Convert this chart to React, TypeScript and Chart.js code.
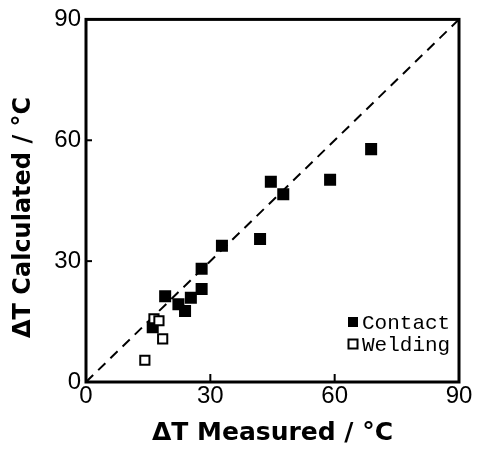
import React, { useEffect, useRef } from "react";
import { Chart, registerables } from "chart.js";
Chart.register(...registerables);

const contactX = [16.1, 19.1, 22.3, 23.9, 25.3, 27.9, 27.9, 32.8, 42.0, 44.6, 47.6, 58.9, 68.8];
const contactY = [13.6, 21.3, 19.3, 17.6, 20.9, 23.1, 28.1, 33.8, 35.5, 49.7, 46.6, 50.2, 57.8];
const weldingX = [16.4, 17.6, 18.5, 14.2];
const weldingY = [15.7, 15.2, 10.7, 5.4];
const tickValues = [0, 30, 60, 90];
const diagonal = [0, 90];
const xTitle = "ΔT Measured / °C";
const yTitle = "ΔT Calculated / °C    ";
const legendLabels = ["Contact", "Welding"];

const framePlugin = {
  id: "frame",
  afterDatasetsDraw(chart: any) {
    const { ctx, chartArea, scales } = chart;
    const { left, right, top, bottom } = chartArea;
    const xs = scales.x;
    const ys = scales.y;
    ctx.save();
    ctx.strokeStyle = "#000";
    ctx.lineWidth = 3;
    ctx.strokeRect(left, top, right - left, bottom - top);
    ctx.lineWidth = 2;
    tickValues.slice(1, -1).forEach((v) => {
      const px = xs.getPixelForValue(v);
      ctx.beginPath();
      ctx.moveTo(px, bottom);
      ctx.lineTo(px, bottom - 8);
      ctx.stroke();
      const py = ys.getPixelForValue(v);
      ctx.beginPath();
      ctx.moveTo(left, py);
      ctx.lineTo(left + 6, py);
      ctx.stroke();
    });
    // legend
    const lx = right - 106;
    const tx = right - 97;
    const rows = [bottom - 60, bottom - 38];
    ctx.font = "21px 'Liberation Mono'";
    ctx.textBaseline = "middle";
    ctx.textAlign = "left";
    ctx.fillStyle = "#000";
    ctx.fillRect(lx - 5, rows[0] - 5, 10, 10);
    ctx.fillText(legendLabels[0], tx, rows[0] + 1);
    ctx.lineWidth = 2;
    ctx.fillStyle = "#fff";
    ctx.fillRect(lx - 4.5, rows[1] - 4.5, 9, 9);
    ctx.strokeRect(lx - 4.5, rows[1] - 4.5, 9, 9);
    ctx.fillStyle = "#000";
    ctx.fillText(legendLabels[1], tx, rows[1] + 1);
    ctx.restore();
  },
};

export default function App() {
  const ref = useRef<HTMLCanvasElement>(null);
  useEffect(() => {
    if (!ref.current) return;
    const chart = new Chart(ref.current, {
      type: "scatter",
      data: {
        datasets: [
          {
            label: legendLabels[1],
            data: weldingX.map((x, i) => ({ x, y: weldingY[i] })),
            pointStyle: "rect",
            pointRadius: 6.5,
            pointBorderWidth: 2,
            pointBackgroundColor: "#fff",
            pointBorderColor: "#000",
          },
          {
            label: legendLabels[0],
            data: contactX.map((x, i) => ({ x, y: contactY[i] })),
            pointStyle: "rect",
            pointRadius: 8.5,
            pointBorderWidth: 0,
            pointBackgroundColor: "#000",
            pointBorderColor: "#000",
          },
          {
            label: "y=x",
            data: diagonal.map((v) => ({ x: v, y: v })),
            showLine: true,
            borderColor: "#000",
            borderWidth: 2,
            borderDash: [10, 7],
            pointRadius: 0,
            fill: false,
          },
        ],
      },
      options: {
        animation: false,
        responsive: true,
        maintainAspectRatio: false,
        layout: { padding: { top: 15, right: 19, left: 0, bottom: 0 } },
        plugins: { legend: { display: false }, tooltip: { enabled: false } },
        scales: {
          x: {
            type: "linear",
            min: tickValues[0],
            max: tickValues[tickValues.length - 1],
            afterFit: (s: any) => {
              s.height = 70;
            },
            grid: { display: false, drawTicks: false },
            border: { display: false },
            ticks: {
              stepSize: 30,
              padding: 0,
              color: "#000",
              font: { family: "'Liberation Sans'", size: 24 },
              maxRotation: 0,
            },
            title: {
              display: true,
              text: xTitle,
              color: "#000",
              font: { family: "'DejaVu Sans'", size: 25, weight: "bold" },
              padding: { top: 0, bottom: 4 },
            },
          },
          y: {
            type: "linear",
            min: tickValues[0],
            max: tickValues[tickValues.length - 1],
            afterFit: (s: any) => {
              s.width = 86;
            },
            grid: { display: false, drawTicks: false },
            border: { display: false },
            ticks: {
              stepSize: 30,
              padding: 5,
              color: "#000",
              font: { family: "'Liberation Sans'", size: 24 },
            },
            title: {
              display: true,
              text: yTitle,
              color: "#000",
              font: { family: "'DejaVu Sans'", size: 24, weight: "bold" },
              padding: { top: 9, bottom: 0 },
            },
          },
        },
      },
      plugins: [framePlugin],
    });
    return () => chart.destroy();
  }, []);
  return (
    <div style={{ position: "fixed", left: 0, top: 0, width: 478, height: 452, background: "#fff" }}>
      <canvas ref={ref} />
    </div>
  );
}
